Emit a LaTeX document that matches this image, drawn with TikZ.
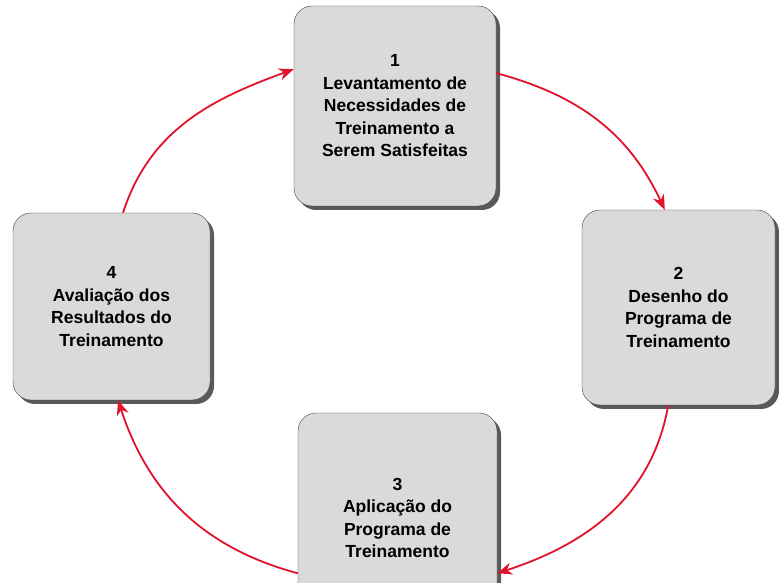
\documentclass[tikz,border=0pt]{standalone}
\usepackage{fontspec}
\setmainfont{Liberation Sans}
\usetikzlibrary{arrows.meta,shadows,positioning}
\definecolor{cyclered}{RGB}{226,18,42}
\definecolor{boxgray}{RGB}{218,218,218}

\begin{document}
\begin{tikzpicture}[x=1pt,y=1pt,font=\bfseries\fontsize{17.5}{22.5}\selectfont]

\tikzset{
stage/.style={draw=black!75,fill=boxgray,rounded corners=18pt,align=center,inner sep=0pt,
  drop shadow={shadow xshift=4pt,shadow yshift=-4pt,fill=black!65,opacity=1}},
flow/.style={-{Stealth[length=15pt,width=12pt]},draw=cyclered,line width=1.8pt}
}

\useasboundingbox (0,0) rectangle (779,583);
\clip (0,0) rectangle (779,583);

% Nodes
\node[stage,minimum width=202pt,minimum height=200pt] (box1) at (395,477)
  {1\\Levantamento de\\Necessidades de\\Treinamento a\\Serem Satisfeitas};
\node[stage,minimum width=193pt,minimum height=195pt] (box2) at (678.5,275.5)
  {2\\Desenho do\\Programa de\\Treinamento};
\node[stage,minimum width=199pt,minimum height=210pt] (box3) at (397.5,65)
  {3\\Aplicação do\\Programa de\\Treinamento};
\node[stage,minimum width=197pt,minimum height=187pt] (box4) at (111.5,276.5)
  {4\\Avaliação dos\\Resultados do\\Treinamento};

% Arrows
\draw[flow] (box1.18) to[out=-15,in=115] (box2.98);
\draw[flow] (box2.264) to[out=-100,in=18] (box3.-29);
\draw[flow] (box3.209) to[out=165,in=-72] (box4.-86);
\draw[flow] (box4.83) to[out=72,in=200] (box1.160);

\end{tikzpicture}
\end{document}
